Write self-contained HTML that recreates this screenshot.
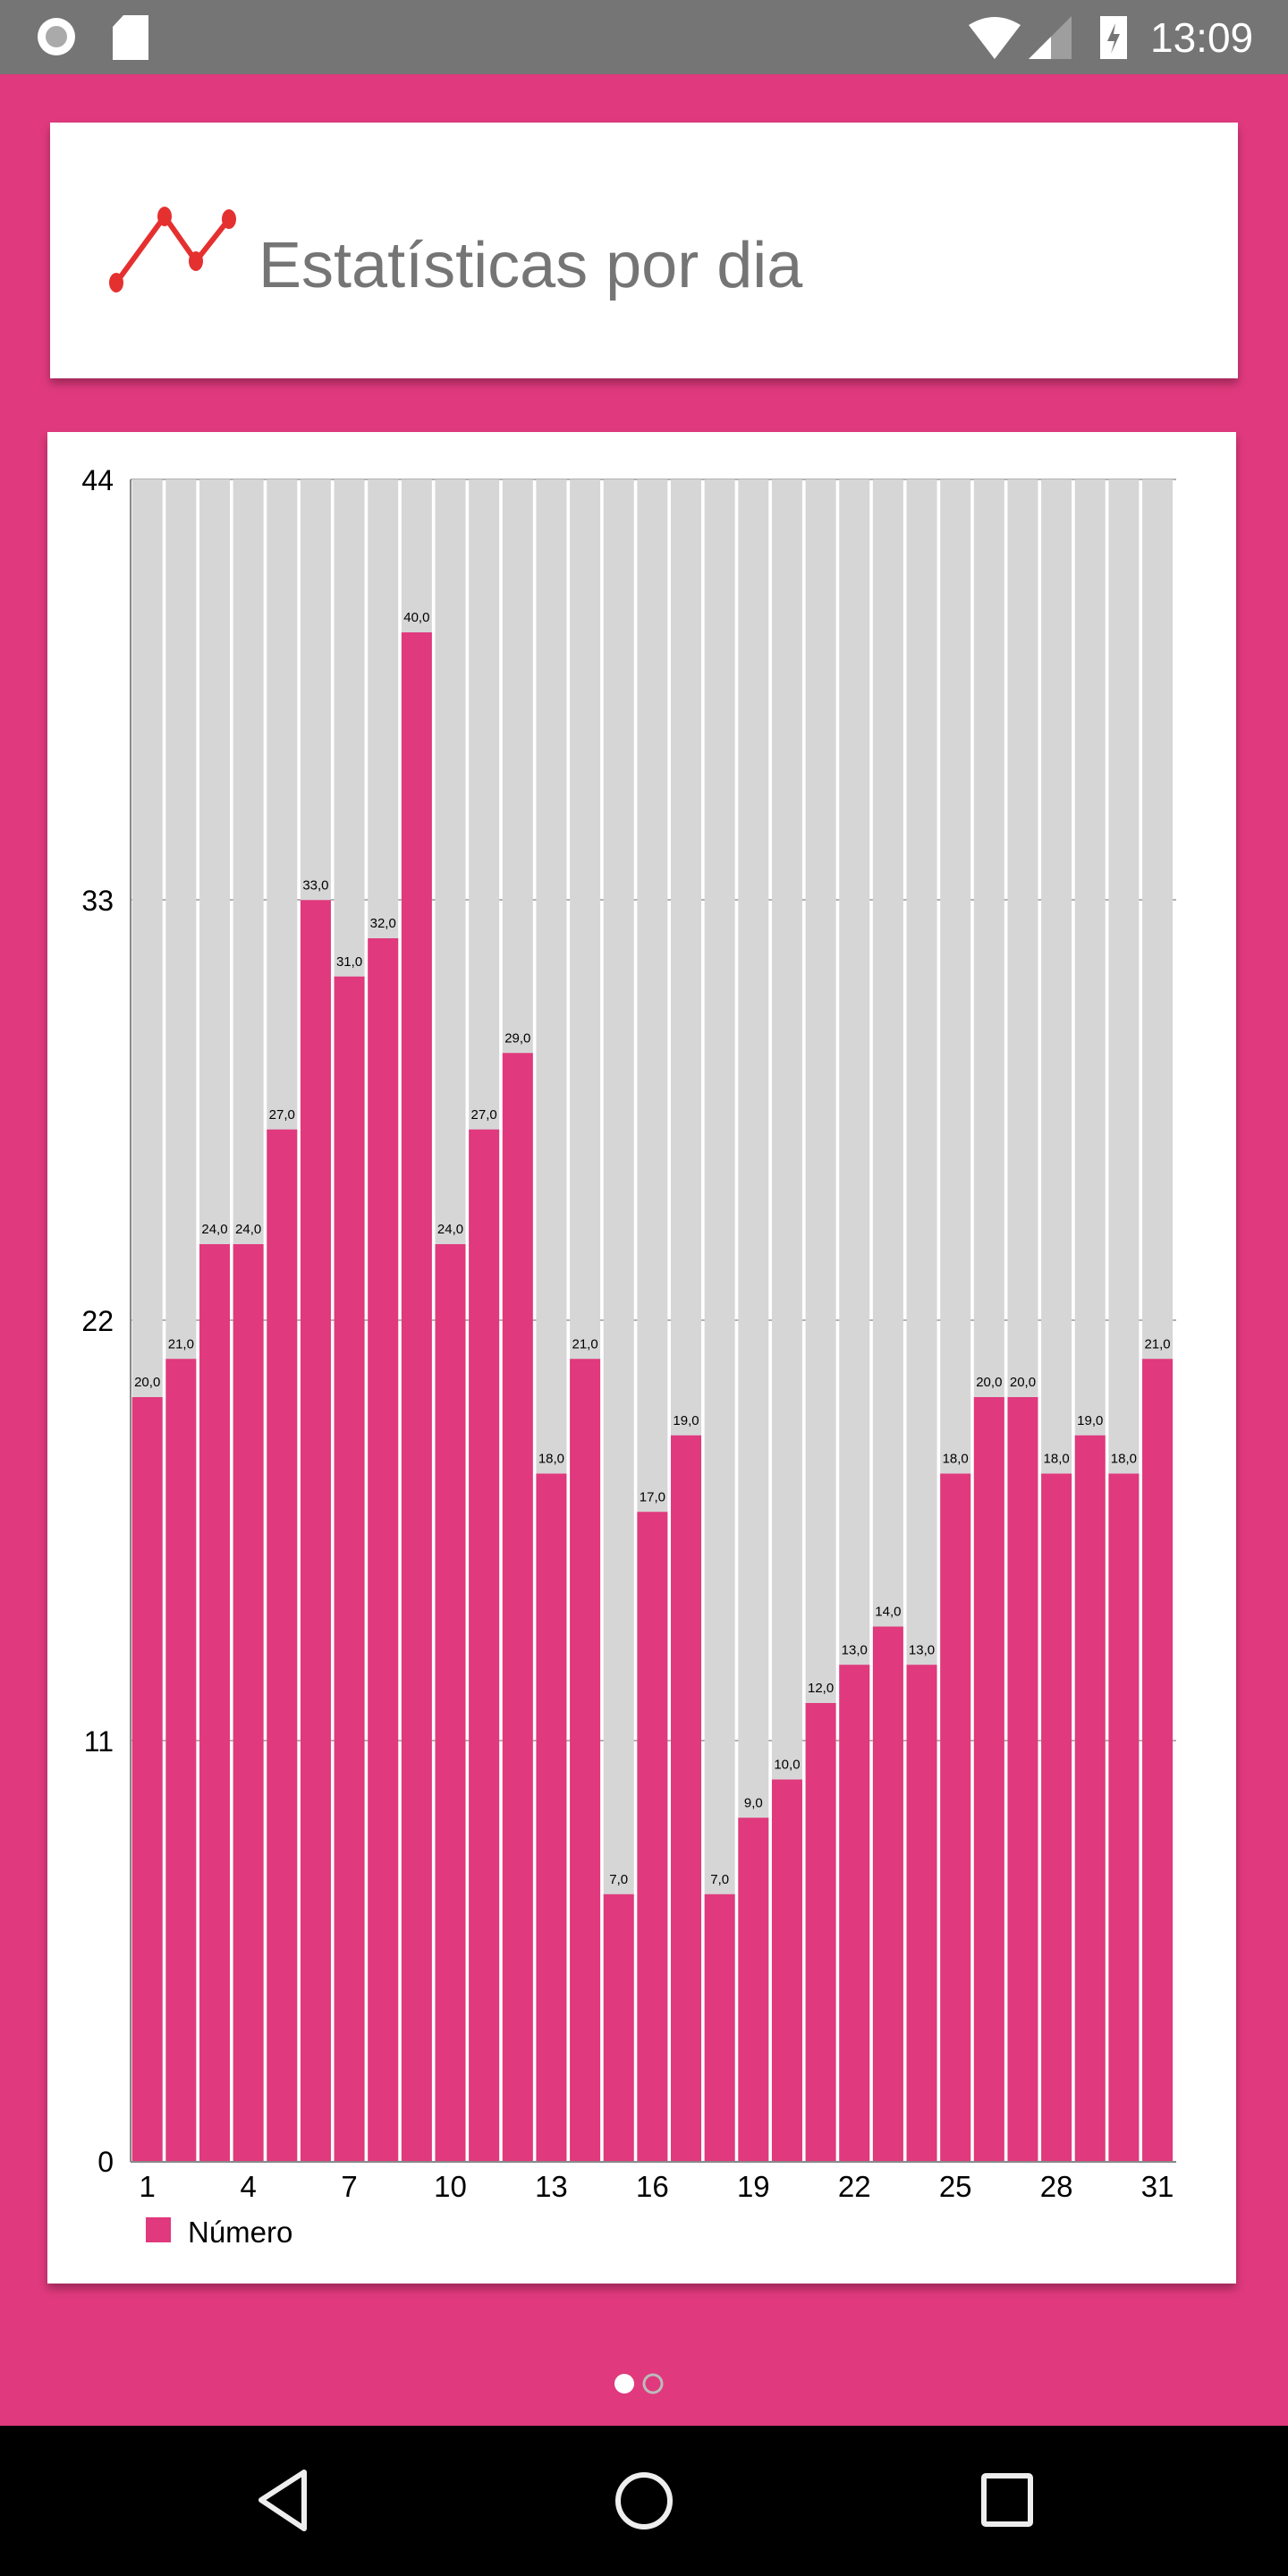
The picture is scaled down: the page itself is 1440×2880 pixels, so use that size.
<!DOCTYPE html>
<html><head><meta charset="utf-8"><style>
html,body{margin:0;padding:0;width:1440px;height:2880px;overflow:hidden;background:#E0397D;}
svg{display:block}
</style></head><body>
<svg width="1440" height="2880" xmlns="http://www.w3.org/2000/svg" font-family="Liberation Sans, sans-serif">
<defs>
<filter id="sh" x="-5%" y="-5%" width="110%" height="120%"><feDropShadow dx="0" dy="6" stdDeviation="5" flood-color="#000" flood-opacity="0.3"/></filter>
</defs>
<rect x="0" y="0" width="1440" height="2880" fill="#E0397D"/>
<rect x="0" y="0" width="1440" height="83" fill="#757575"/>
<circle cx="63" cy="41" r="21" fill="#fff"/><circle cx="63" cy="41" r="12" fill="#aaa"/>
<path d="M138 17 H166 V67 H126 V30 Z" fill="#fff"/>
<path d="M1083 28 Q1112 10 1141 28 L1112 66 Z" fill="#fff"/>
<path d="M1150 66 L1198 18 V66 Z" fill="#9e9e9e"/><path d="M1150 66 L1175 41 V66 Z" fill="#fff"/>
<rect x="1230" y="18" width="30" height="48" fill="#fff"/><path d="M1247 26 L1238 46 H1246 L1242 60 L1252 38 H1245 Z" fill="#757575"/>
<text x="1286" y="58" font-size="46" fill="#fff">13:09</text>
<rect x="56" y="137" width="1328" height="286" fill="#fff" filter="url(#sh)"/>
<polyline points="130,316 184,242 219,292 256,245" fill="none" stroke="#E53030" stroke-width="6"/>
<ellipse cx="130" cy="316" rx="8" ry="11" fill="#E53030"/><ellipse cx="184" cy="242" rx="8" ry="11" fill="#E53030"/>
<ellipse cx="219" cy="292" rx="8" ry="11" fill="#E53030"/><ellipse cx="256" cy="245" rx="8" ry="11" fill="#E53030"/>
<text x="289" y="321" font-size="72" fill="#757575">Estatísticas por dia</text>
<rect x="53" y="483" width="1329" height="2070" fill="#fff" filter="url(#sh)"/>
<g id="bars"></g>
<line x1="146" y1="536" x2="146" y2="2417" stroke="#888" stroke-width="2"/>
<line x1="146" y1="2417" x2="1315" y2="2417" stroke="#888" stroke-width="2"/>
<g font-size="32" fill="#000" text-anchor="end">
<text x="127" y="548">44</text><text x="127" y="1018">33</text><text x="127" y="1488">22</text><text x="127" y="1958">11</text><text x="127" y="2428">0</text>
</g>
<rect x="163" y="2479" width="28" height="28" fill="#E0397D"/>
<text x="210" y="2507" font-size="33" fill="#000">Número</text>
<circle cx="698" cy="2665" r="11" fill="#fff"/><circle cx="730" cy="2665" r="10" fill="none" stroke="#bbb" stroke-width="3"/>
<rect x="0" y="2712" width="1440" height="168" fill="#000"/>
<path d="M340 2764 L292 2795 L340 2827 Z" fill="none" stroke="#eee" stroke-width="6" stroke-linejoin="round"/>
<ellipse cx="720" cy="2796" rx="29" ry="29" fill="none" stroke="#eee" stroke-width="6"/>
<rect x="1100" y="2768" width="52" height="54" fill="none" stroke="#eee" stroke-width="6" rx="2"/>
<g id="labels"></g>
</svg>
<script>
(function(){
var v=[20,21,24,24,27,33,31,32,40,24,27,29,18,21,7,17,19,7,9,10,12,13,14,13,18,20,20,18,19,18,21];
var ns="http://www.w3.org/2000/svg",g=document.getElementById('bars'),L=document.getElementById('labels');
function el(t,a,p,txt){var e=document.createElementNS(ns,t);for(var k in a)e.setAttribute(k,a[k]);if(txt!=null)e.textContent=txt;p.appendChild(e);return e;}
var py0=536,bot=2417,h=bot-py0,sw=(1314-147)/31;
[536,1006,1476,1946].forEach(function(y){el('line',{x1:146,x2:1315,y1:y,y2:y,stroke:'#999','stroke-width':1.5},g);});
for(var i=0;i<31;i++){var x=147.7+i*sw;
el('rect',{x:x,y:py0,width:34,height:h,fill:'#D6D6D6'},g);}
for(var i=0;i<31;i++){var x=147.7+i*sw,w=34,bh=v[i]/44*h;
el('rect',{x:x,y:bot-bh,width:w,height:bh,fill:'#E0397D'},g);
el('text',{x:x+w/2,y:bot-bh-12,'font-size':15,'text-anchor':'middle',fill:'#000'},g,v[i]+',0');
if(i%3==0)el('text',{x:x+w/2,y:2456,'font-size':33,'text-anchor':'middle',fill:'#000'},L,String(i+1));}
})();
</script>
</body></html>
